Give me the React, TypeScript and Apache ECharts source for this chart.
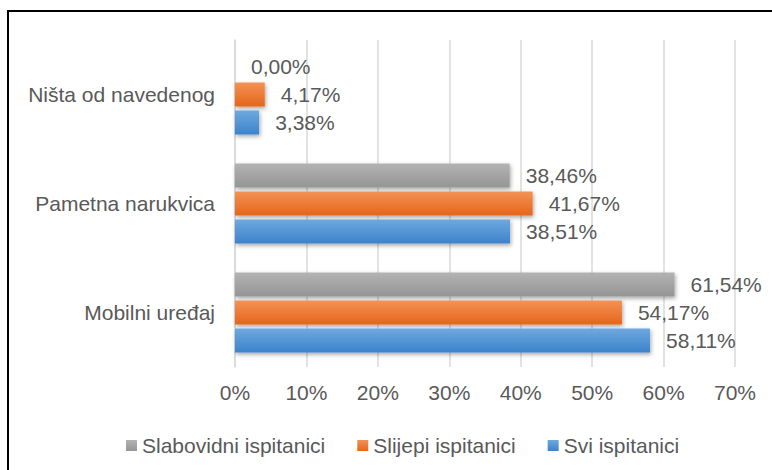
import React, { useEffect, useRef } from "react";
import * as echarts from "echarts";

const categories = ["Mobilni uređaj", "Pametna narukvica", "Ništa od navedenog"];
const sviValues = [58.11, 38.51, 3.38];
const slijepiValues = [54.17, 41.67, 4.17];
const slabovidniValues = [61.54, 38.46, 0.0];
const legendNames = ["Slabovidni ispitanici", "Slijepi ispitanici", "Svi ispitanici"];
const xTicks = { min: 0, max: 70, interval: 10 };

const FONT = "'Liberation Sans', Arial, sans-serif";
const TXT = "#595959";

function grad(top: string, bottom: string) {
  return new echarts.graphic.LinearGradient(0, 0, 0, 1, [
    { offset: 0, color: top },
    { offset: 1, color: bottom },
  ]);
}

function fmt(v: number) {
  return v.toFixed(2).replace(".", ",") + "%";
}

export default function App() {
  const ref = useRef<HTMLDivElement>(null);
  useEffect(() => {
    if (!ref.current) return;
    const chart = echarts.init(ref.current, undefined, { renderer: "svg" });
    const mk = (name: string, data: number[], top: string, bottom: string) => ({
      name,
      type: "bar",
      data,
      barWidth: 24,
      barGap: "17%",
      itemStyle: {
        color: grad(top, bottom),
        shadowColor: "rgba(0,0,0,0.35)",
        shadowBlur: 4,
        shadowOffsetX: 1,
        shadowOffsetY: 2,
      },
      label: {
        show: true,
        position: "right",
        distance: 16,
        color: TXT,
        fontFamily: FONT,
        fontSize: 21,
        formatter: (p: any) => fmt(p.value),
      },
    });
    chart.setOption({
      animation: false,
      textStyle: { fontFamily: FONT },
      graphic: [
        {
          type: "rect",
          shape: { x: 8, y: 11, width: 820, height: 520 },
          style: { fill: "none", stroke: "#000", lineWidth: 2 },
          silent: true,
        },
      ],
      legend: {
        data: legendNames,
        left: 121,
        top: 430,
        icon: "rect",
        itemWidth: 11,
        itemHeight: 11,
        itemGap: 32,
        textStyle: { color: TXT, fontSize: 21, fontFamily: FONT },
      },
      grid: { left: 235, right: 37, top: 40, bottom: 103, containLabel: false },
      xAxis: {
        type: "value",
        min: xTicks.min,
        max: xTicks.max,
        interval: xTicks.interval,
        axisLine: { show: false },
        axisTick: { show: false },
        axisLabel: {
          formatter: "{value}%",
          color: TXT,
          fontSize: 21,
          fontFamily: FONT,
          margin: 15,
        },
        splitLine: { show: true, lineStyle: { color: "#d9d9d9", width: 1.5 } },
      },
      yAxis: {
        type: "category",
        data: categories,
        axisLine: { show: true, lineStyle: { color: "#d9d9d9", width: 1.5 } },
        axisTick: { show: false },
        axisLabel: { color: TXT, fontSize: 21, fontFamily: FONT, margin: 20 },
      },
      series: [
        mk(legendNames[0], slabovidniValues, "#b3b3b3", "#959595"),
        mk(legendNames[1], slijepiValues, "#f39255", "#e6651a"),
        mk(legendNames[2], sviValues, "#6ea8df", "#3c83cb"),
      ],
    });
    return () => chart.dispose();
  }, []);
  return (
    <div
      ref={ref}
      style={{ position: "fixed", left: 0, top: 0, width: 772, height: 470, background: "#fff" }}
    />
  );
}
